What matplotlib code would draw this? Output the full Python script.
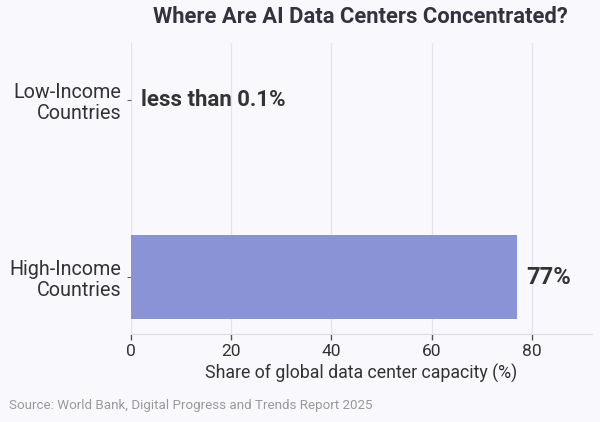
import matplotlib.pyplot as plt

categories = ["High-Income\nCountries", "Low-Income\nCountries"]
values = [77, 0.1]
bar_labels = ["77%", "less than 0.1%"]
xticks = [0, 20, 40, 60, 80]

plt.rcParams['font.family'] = ['Roboto', 'DejaVu Sans']

bg = "#f9f9fd"
fig = plt.figure(figsize=(6, 4.22), dpi=100, facecolor=bg)
ax = fig.add_axes([0.218, 0.2085, 0.769, 0.6895], facecolor=bg)

ax.barh(categories, values, height=0.48, color=["#8a93d6", "#ffffff"], zorder=3)
ax.set_xlim(0, 92)
ax.set_ylim(-0.322, 1.322)
ax.set_xticks(xticks)
ax.grid(axis="x", color="#e4e4ec", linewidth=1, zorder=0)
ax.set_axisbelow(True)

for s in ["top", "right", "left"]:
    ax.spines[s].set_visible(False)
ax.spines["bottom"].set_color("#dcdce6")

ax.tick_params(axis="x", colors="#555555", labelsize=12.5, length=4, width=1, pad=3)
ax.tick_params(axis="x", labelcolor="#333333")
ax.tick_params(axis="y", labelsize=14.2, length=3, color="#666666", pad=4,
               labelcolor="#333333")
for lab in ax.get_yticklabels():
    lab.set_horizontalalignment("right")
    lab.set_multialignment("right")
    lab.set_linespacing(1.15)

# value labels
ax.text(values[0] + 1.9, 0, bar_labels[0], va="center", ha="left",
        fontsize=17, fontweight="bold", color="#333333")
ax.text(2.1, 1, bar_labels[1], va="center", ha="left",
        fontsize=16, fontweight="bold", color="#333333")

ax.set_xlabel("Share of global data center capacity (%)", fontsize=12.8, color="#333333")
ax.xaxis.set_label_coords(0.5, -0.104)

fig.text(0.6, 0.96, "Where Are AI Data Centers Concentrated?", ha="center", va="center",
         fontsize=15.8, fontweight="bold", color="#333340")
fig.text(0.015, 0.038, "Source: World Bank, Digital Progress and Trends Report 2025",
         ha="left", va="center", fontsize=9.6, color="#999999")

fig.savefig("out.png", dpi=100, facecolor=bg)
